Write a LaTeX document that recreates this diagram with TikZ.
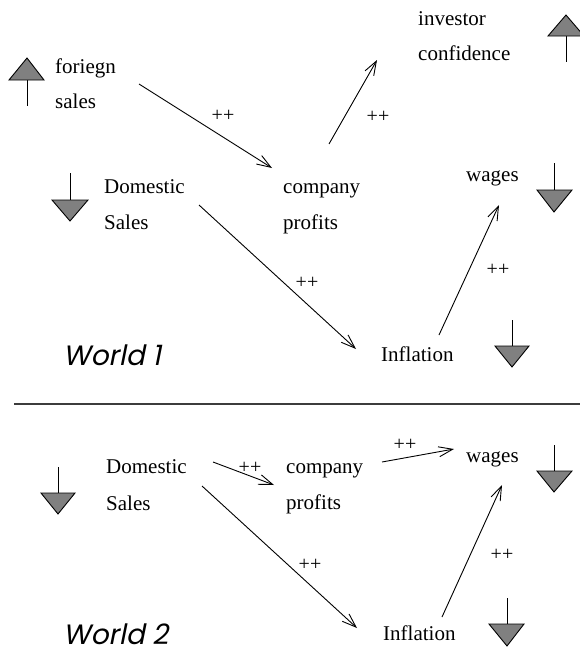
\documentclass[tikz,border=0pt]{standalone}
\usepackage{fontspec}
\setmainfont{Liberation Serif}
\newfontfamily\worldfont[FakeSlant=0.2]{Poppins}
\usetikzlibrary{arrows.meta}
\definecolor{trigray}{RGB}{128,128,128}
\definecolor{rulegray}{RGB}{60,60,60}
\begin{document}
\begin{tikzpicture}[x=1pt,y=-1pt,
  lbl/.style={anchor=base west,inner sep=0,font=\fontsize{21}{21}\selectfont},
  pp/.style={inner sep=0,font=\fontsize{20}{20}\selectfont},
  arr/.style={line width=0.9pt,-{Straight Barb[length=14pt,width=10pt,line width=0.9pt]}},
  tri/.style={draw,line width=0.9pt,fill=trigray,line join=miter},
  stem/.style={line width=0.9pt},
  world/.style={anchor=base west,inner sep=0,font=\worldfont\fontsize{28}{28}\selectfont}]
\useasboundingbox (0,0) rectangle (580,653);

% ---------- World 1 ----------
\node[lbl] (fs1) at (55,73) {foriegn};
\node[lbl] (fs2) at (55,108) {sales};
\node[lbl] (ds1) at (104,193) {Domestic};
\node[lbl] (ds2) at (104,229) {Sales};
\node[lbl] (cp1) at (283,193) {company};
\node[lbl] (cp2) at (283,229) {profits};
\node[lbl] (ic1) at (418,25) {investor};
\node[lbl] (ic2) at (418,60) {confidence};
\node[lbl] (wg) at (466,181) {wages};
\node[lbl] (inf) at (381,361) {Inflation};
\node[world] (w1) at (63,365) {World 1};

% indicators
\draw[stem] (27,80) -- (27,106);
\draw[tri] (9,80) -- (27,58) -- (44,80) -- cycle;
\draw[stem] (566,36) -- (566,62);
\draw[tri] (548,36) -- (566,15) -- (584,36) -- cycle;
\draw[stem] (70,173) -- (70,200);
\draw[tri] (52,200) -- (88,200) -- (70,221) -- cycle;
\draw[stem] (554,163) -- (554,190);
\draw[tri] (537,190) -- (572,190) -- (554,212) -- cycle;
\draw[stem] (512,320) -- (512,346);
\draw[tri] (495,346) -- (529,346) -- (512,367) -- cycle;

% connectors
\coordinate (a1s) at (139,84);  \coordinate (a1e) at (272,168);
\coordinate (a2s) at (329,144); \coordinate (a2e) at (377,60);
\coordinate (a3s) at (199,205); \coordinate (a3e) at (356,349);
\coordinate (a4s) at (439,335); \coordinate (a4e) at (499,205);
\draw[arr] (a1s) -- (a1e);
\draw[arr] (a2s) -- (a2e);
\draw[arr] (a3s) -- (a3e);
\draw[arr] (a4s) -- (a4e);
\node[pp] (p1) at (223,116) {++};
\node[pp] (p2) at (378,117) {++};
\node[pp] (p3) at (307,283) {++};
\node[pp] (p4) at (498,270) {++};

% divider
\coordinate (dl) at (14,404); \coordinate (dr) at (580,404);
\draw[rulegray,line width=1.3pt] (dl) -- (dr);

% ---------- World 2 ----------
\node[lbl] (bds1) at (106,473) {Domestic};
\node[lbl] (bds2) at (106,510) {Sales};
\node[lbl] (bcp1) at (286,473) {company};
\node[lbl] (bcp2) at (286,509) {profits};
\node[lbl] (bwg) at (466,462) {wages};
\node[lbl] (binf) at (383,640) {Inflation};
\node[world] (w2) at (63,644) {World 2};

\draw[stem] (58,467) -- (58,493);
\draw[tri] (41,493) -- (75,493) -- (58,514) -- cycle;
\draw[stem] (554,445) -- (554,471);
\draw[tri] (537,471) -- (572,471) -- (554,492) -- cycle;
\draw[stem] (507,598) -- (507,624);
\draw[tri] (489,624) -- (524,624) -- (507,646) -- cycle;

\coordinate (b1s) at (213,462); \coordinate (b1e) at (274,485);
\coordinate (b2s) at (382,462); \coordinate (b2e) at (454,449);
\coordinate (b3s) at (202,486); \coordinate (b3e) at (357,628);
\coordinate (b4s) at (442,617); \coordinate (b4e) at (502,485);
\draw[arr] (b1s) -- (b1e);
\draw[arr] (b2s) -- (b2e);
\draw[arr] (b3s) -- (b3e);
\draw[arr] (b4s) -- (b4e);
\node[pp] (q1) at (250,468) {++};
\node[pp] (q2) at (405,445) {++};
\node[pp] (q3) at (310,565) {++};
\node[pp] (q4) at (502,555) {++};
\end{tikzpicture}
\end{document}
